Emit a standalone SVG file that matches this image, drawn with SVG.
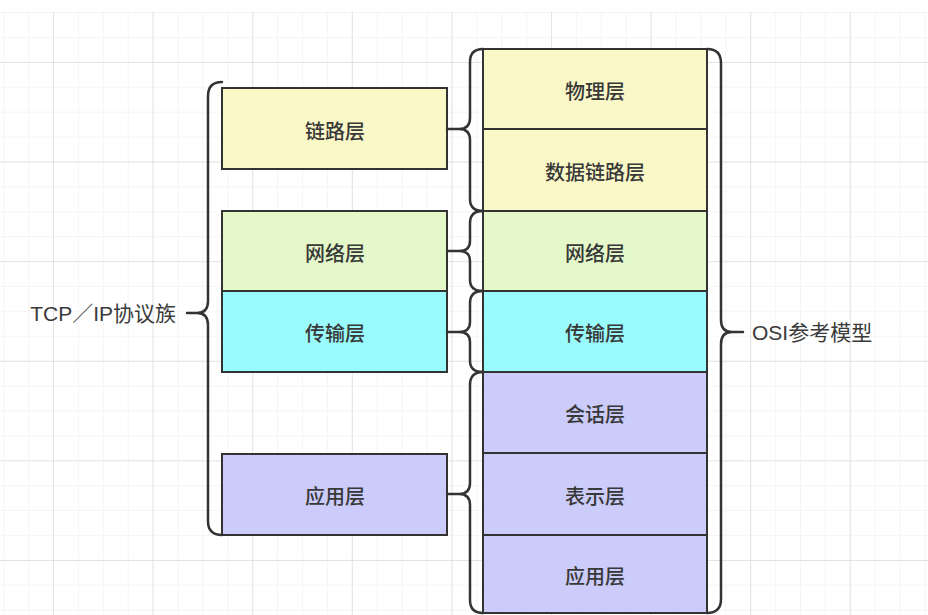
<svg xmlns="http://www.w3.org/2000/svg" width="928" height="615" viewBox="0 0 928 615">
  <style>
    .box { stroke: #333333; stroke-width: 2; }
    .y { fill: #fbf8c8; }
    .g { fill: #e5f8c9; }
    .c { fill: #99fbfb; }
    .p { fill: #ccccfa; }
    .t { font-family: "Noto Sans CJK SC", "Liberation Sans", sans-serif; font-size: 20px; font-weight: 500; fill: #383838; text-anchor: middle; dominant-baseline: central; }
    .lbl { font-family: "Liberation Sans", "Noto Sans CJK SC", sans-serif; font-size: 21px; fill: #3a3a3a; dominant-baseline: central; }
    .brace { fill: none; stroke: #333333; stroke-width: 2.5; stroke-linecap: round; stroke-linejoin: round; }
  </style>
  <defs>
    <pattern id="minor" x="53" y="12" width="24.9" height="24.9" patternUnits="userSpaceOnUse">
      <path d="M 0 0 V 24.9 M 0 0 H 24.9" fill="none" stroke="#ececec" stroke-width="1"/>
    </pattern>
    <pattern id="major" x="53" y="62" width="99.6" height="99.6" patternUnits="userSpaceOnUse">
      <path d="M 0 0 V 99.6 M 0 0 H 99.6" fill="none" stroke="#dedede" stroke-width="1.5"/>
    </pattern>
  </defs>
  <rect width="928" height="615" fill="#ffffff"/>
  <rect x="0" y="12" width="928" height="603" fill="url(#minor)"/>
  <rect x="0" y="12" width="928" height="603" fill="url(#major)"/>

  <g id="tcp-link">
    <rect class="box y" x="222" y="88" width="225" height="81"/>
    <text class="t" x="335" y="130">链路层</text>
  </g>
  <g id="tcp-network">
    <rect class="box g" x="222" y="211" width="225" height="80"/>
    <text class="t" x="335" y="252">网络层</text>
  </g>
  <g id="tcp-transport">
    <rect class="box c" x="222" y="291" width="225" height="81"/>
    <text class="t" x="335" y="332">传输层</text>
  </g>
  <g id="tcp-app">
    <rect class="box p" x="222" y="454" width="225" height="81"/>
    <text class="t" x="335" y="495">应用层</text>
  </g>

  <g id="osi-physical">
    <rect class="box y" x="483" y="49" width="224" height="80"/>
    <text class="t" x="595" y="90">物理层</text>
  </g>
  <g id="osi-datalink">
    <rect class="box y" x="483" y="129" width="224" height="82"/>
    <text class="t" x="595" y="171">数据链路层</text>
  </g>
  <g id="osi-network">
    <rect class="box g" x="483" y="211" width="224" height="80"/>
    <text class="t" x="595" y="252">网络层</text>
  </g>
  <g id="osi-transport">
    <rect class="box c" x="483" y="291" width="224" height="81"/>
    <text class="t" x="595" y="332">传输层</text>
  </g>
  <g id="osi-session">
    <rect class="box p" x="483" y="372" width="224" height="81"/>
    <text class="t" x="595" y="413">会话层</text>
  </g>
  <g id="osi-presentation">
    <rect class="box p" x="483" y="453" width="224" height="82"/>
    <text class="t" x="595" y="495">表示层</text>
  </g>
  <g id="osi-app">
    <rect class="box p" x="483" y="535" width="224" height="78"/>
    <text class="t" x="595" y="575">应用层</text>
  </g>

  <g id="label-tcp">
    <text class="lbl" x="176" y="313" text-anchor="end">TCP／IP协议族</text>
  </g>
  <g id="label-osi">
    <text class="lbl" x="752" y="332">OSI参考模型</text>
  </g>

  <g id="connectors">
    <path class="brace" d="M 222 82 Q 208 82 208 96 V 301 Q 208 313 197 313 H 187 M 197 313 Q 208 313 208 325 V 521 Q 208 535 222 535"/>
    <path class="brace" d="M 483 49 Q 470 49 470 62 V 118 Q 470 129 459 129 H 447 M 459 129 Q 470 129 470 140 V 199 Q 470 211 483 211"/>
    <path class="brace" d="M 483 211 Q 470 211 470 223 V 241 Q 470 251 459 251 H 447 M 459 251 Q 470 251 470 261 V 280 Q 470 291 483 291"/>
    <path class="brace" d="M 483 291 Q 470 291 470 303 V 322 Q 470 332 459 332 H 447 M 459 332 Q 470 332 470 342 V 361 Q 470 372 483 372"/>
    <path class="brace" d="M 483 372 Q 470 372 470 385 V 483 Q 470 494 459 494 H 447 M 459 494 Q 470 494 470 505 V 600 Q 470 613 483 613"/>
    <path class="brace" d="M 707 49 Q 721 49 721 63 V 320 Q 721 332 732 332 H 743 M 732 332 Q 721 332 721 344 V 599 Q 721 613 707 613"/>
  </g>
</svg>
